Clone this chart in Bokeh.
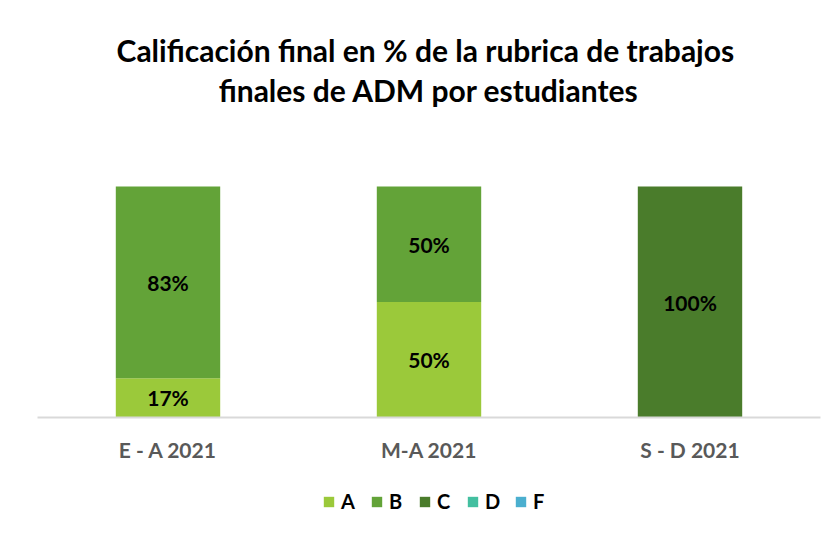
from bokeh.plotting import figure
from bokeh.models import ColumnDataSource, LabelSet, Label, Legend, LegendItem, Range1d
from bokeh.embed import file_html
from bokeh.resources import INLINE
from bokeh.core.properties import value

periods = ["E - A 2021", "M-A 2021", "S - D 2021"]
grades = ["A", "B", "C", "D", "F"]
A = [0.17, 0.50, 0.0]
B = [0.83, 0.50, 0.0]
C = [0.0, 0.0, 1.00]
D = [0.0, 0.0, 0.0]
F = [0.0, 0.0, 0.0]
colors = ["#9BC93A", "#63A338", "#4A7C2B", "#43BFA0", "#4BAFCF"]
title_lines = ["Calificación final en %  de la rubrica de trabajos",
               "finales de ADM por estudiantes"]

FONT = "Lato"
W, H = 831, 525
BAND = 261.0          # px per category
PX_LEFT = 37.0        # px left of first band
BASE_PX = 417.0       # baseline, px from top
UNIT = 231.0          # px for 100 %

xs = [i + 0.5 for i in range(len(periods))]
data = {"x": xs, "period": periods, "A": A, "B": B, "C": C, "D": D, "F": F}
src = ColumnDataSource(data)

x_start = -PX_LEFT / BAND
x_end = x_start + W / BAND
y_start = -(H - BASE_PX) / UNIT
y_end = BASE_PX / UNIT

p = figure(x_range=Range1d(x_start, x_end), y_range=Range1d(y_start, y_end),
           width=W, height=H, output_backend="svg", toolbar_location=None,
           min_border=0)
p.outline_line_color = None
p.background_fill_color = "white"
p.border_fill_color = "white"
p.grid.visible = False
p.xaxis.visible = False
p.yaxis.visible = False

rs = p.vbar_stack(grades, x="x", width=0.40, source=src, color=colors, line_color=None)

# baseline (category axis line)
p.segment(x0=[0.0], y0=[0.0], x1=[len(periods)], y1=[0.0], line_color="#D9D9D9", line_width=2)

# category labels
p.add_layout(LabelSet(x="x", y=-32 / UNIT, text="period", source=src, text_align="center",
                      text_baseline="middle", text_font=value(FONT), text_font_style="bold",
                      text_font_size="21px", text_color="#595959"))

# data labels
lx, ly, lt = [], [], []
series = {"A": A, "B": B, "C": C, "D": D, "F": F}
for i in range(len(periods)):
    base = 0.0
    for g in grades:
        v = series[g][i]
        if v > 0:
            lx.append(xs[i])
            ly.append(base + v / 2)
            lt.append(f"{round(v * 100)}%")
        base += v
lsrc = ColumnDataSource(dict(x=lx, y=ly, t=lt))
p.add_layout(LabelSet(x="x", y="y", text="t", source=lsrc, text_align="center",
                      text_baseline="middle", text_font=value(FONT), text_font_style="bold",
                      text_font_size="21px", text_color="#000000"))

# title
for k, line in enumerate(title_lines):
    p.add_layout(Label(x=1.5, y=(BASE_PX - [49, 89][k]) / UNIT, text=line, text_align="center",
                       text_baseline="middle", text_font=FONT, text_font_style="bold",
                       text_font_size="30px", text_color="#000000"))

legend = Legend(items=[LegendItem(label=g, renderers=[r]) for g, r in zip(grades, rs)],
                orientation="horizontal", location=(322, 12),
                glyph_width=13, glyph_height=13, label_text_font=FONT,
                label_text_font_style="bold", label_text_font_size="20px",
                label_text_color="#000000", spacing=9, label_standoff=6,
                label_height=13,
                border_line_color=None, background_fill_alpha=0, margin=0, padding=4)
p.add_layout(legend, "center")

open("out.html", "w").write(file_html(p, INLINE))
